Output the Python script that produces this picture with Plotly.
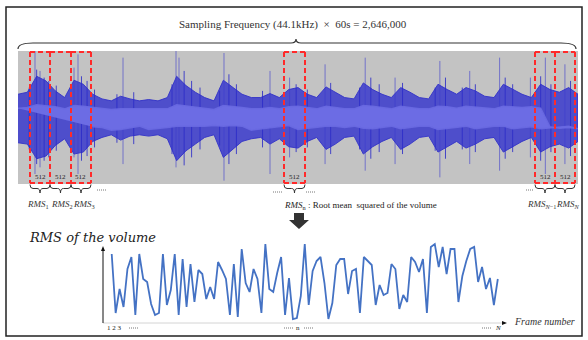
import plotly.graph_objects as go

W, H = 588, 340

# ---------------- data ----------------
# waveform envelope (per second, 0..60 s), normalised amplitude
wave_t = list(range(61))
outer_top = [0.35,0.38,0.62,0.55,0.40,0.30,0.56,0.50,0.35,0.28,0.25,0.32,0.28,0.25,0.27,0.25,0.30,0.62,0.48,0.38,
             0.30,0.25,0.56,0.45,0.35,0.30,0.30,0.36,0.30,0.42,0.45,0.35,0.30,0.46,0.38,0.30,0.28,0.52,0.42,0.35,
             0.30,0.45,0.38,0.30,0.28,0.50,0.42,0.35,0.45,0.40,0.32,0.30,0.50,0.42,0.35,0.30,0.50,0.42,0.38,0.45,0.35]
outer_bot = [0.38,0.40,0.62,0.58,0.42,0.32,0.55,0.52,0.36,0.30,0.26,0.34,0.28,0.26,0.28,0.26,0.32,0.65,0.50,0.40,
             0.30,0.26,0.60,0.48,0.36,0.32,0.30,0.40,0.32,0.44,0.46,0.36,0.30,0.48,0.40,0.30,0.28,0.55,0.44,0.36,
             0.30,0.48,0.40,0.30,0.28,0.52,0.44,0.36,0.46,0.40,0.32,0.30,0.52,0.44,0.36,0.30,0.52,0.44,0.40,0.46,0.36]
core_amp = [0.14,0.15,0.19,0.18,0.16,0.13,0.18,0.17,0.15,0.13,0.12,0.13,0.13,0.12,0.13,0.12,0.13,0.19,0.17,0.16,
            0.14,0.12,0.18,0.17,0.15,0.13,0.13,0.15,0.13,0.16,0.17,0.15,0.13,0.17,0.15,0.13,0.13,0.18,0.17,0.15,
            0.13,0.17,0.15,0.13,0.13,0.17,0.16,0.14,0.17,0.16,0.14,0.13,0.17,0.16,0.15,0.16,0.14]
# tall spikes (seconds, top, bottom)
spike_t   = [1.82, 2.36, 6.0, 6.43, 11.25, 16.93, 17.25, 22.07, 27.0, 29.1, 32.9, 37.2, 40.4, 45.2, 48.4, 51.6, 54.9, 56.5, 58.6]
spike_top = [1.0, 0.7, 0.75, 0.95, 0.9, 1.0, 0.9, 0.97, 0.7, 0.6, 0.8, 0.9, 0.6, 0.85, 0.7, 0.9, 0.6, 0.9, 0.8]
spike_bot = [0.85, 0.75, 0.6, 0.85, 0.7, 0.75, 0.6, 0.95, 0.85, 0.6, 0.7, 0.8, 0.7, 0.9, 0.7, 0.8, 0.6, 0.85, 0.7]
# shorter spikes in the dark fringe
mid_t   = [1.2, 2.0, 2.8, 3.3, 4.1, 6.8, 7.4, 8.2, 10.6, 12.4, 16.5, 17.8, 18.6, 19.5, 21.6, 22.6, 23.4, 26.2, 29.8,
           31.0, 33.5, 36.6, 37.8, 38.7, 41.2, 44.7, 45.8, 47.6, 49.0, 52.2, 53.0, 56.0, 57.1, 59.2]
mid_top = [0.45, 0.72, 0.6, 0.55, 0.48, 0.62, 0.55, 0.42, 0.35, 0.38, 0.5, 0.7, 0.55, 0.45, 0.4, 0.65, 0.5, 0.4, 0.5,
           0.42, 0.52, 0.45, 0.6, 0.5, 0.52, 0.45, 0.6, 0.45, 0.5, 0.6, 0.5, 0.62, 0.5, 0.55]
mid_bot = [0.48, 0.7, 0.65, 0.6, 0.5, 0.65, 0.58, 0.45, 0.38, 0.4, 0.55, 0.72, 0.6, 0.48, 0.42, 0.7, 0.55, 0.45, 0.52,
           0.45, 0.55, 0.48, 0.62, 0.52, 0.55, 0.5, 0.62, 0.48, 0.52, 0.62, 0.52, 0.65, 0.52, 0.58]

# RMS of the volume per frame
rms = [69,10,34,16,54,66,8,69,44,41,19,8,10,69,18,33,69,8,64,16,59,21,53,49,24,36,24,61,53,44,8,59,6,
       74,40,31,54,44,10,79,34,31,50,66,8,45,4,5,27,79,18,52,62,66,40,4,20,58,64,64,29,52,54,10,66,62,
       58,18,38,28,30,59,54,14,28,21,66,61,51,64,10,76,79,56,76,49,74,74,21,47,62,74,76,41,56,34,45,18,44]
frames = list(range(1, len(rms) + 1))

title_text = "Sampling Frequency (44.1kHz)  ×  60s = 2,646,000"
box_labels = ["512"] * 6

SERIF = "Liberation Serif"

def X(p): return p / W
def Y(p): return 1 - p / H
def P(x, y): return f"{X(x):.5f},{Y(y):.5f}"

fig = go.Figure()

# ---------------- waveform ----------------
wx = wave_t + wave_t[::-1]
wy = outer_top + [-v for v in outer_bot[::-1]]
fig.add_trace(go.Scatter(x=wx, y=wy, fill="toself", mode="lines",
                         line=dict(color="rgba(50,50,200,0.9)", width=1),
                         fillcolor="rgba(58,58,205,0.85)", hoverinfo="skip", xaxis="x", yaxis="y"))
mx, my = [], []
for t, a, b in zip(mid_t, mid_top, mid_bot):
    mx += [t, t, None]
    my += [a, -b, None]
fig.add_trace(go.Scatter(x=mx, y=my, mode="lines", line=dict(color="rgba(45,45,200,0.85)", width=1),
                         hoverinfo="skip", xaxis="x", yaxis="y"))
sx, sy = [], []
for t, a, b in zip(spike_t, spike_top, spike_bot):
    sx += [t, t, None]
    sy += [a, -b, None]
fig.add_trace(go.Scatter(x=sx, y=sy, mode="lines", line=dict(color="rgba(60,60,205,0.6)", width=1),
                         hoverinfo="skip", xaxis="x", yaxis="y"))
cx = wave_t + wave_t[::-1]
cy = core_amp + [-v for v in core_amp[::-1]]
fig.add_trace(go.Scatter(x=cx, y=cy, fill="toself", mode="lines",
                         line=dict(color="rgba(105,105,225,0.9)", width=1.5),
                         fillcolor="rgba(108,108,228,1)", hoverinfo="skip", xaxis="x", yaxis="y"))

# ---------------- RMS line ----------------
fig.add_trace(go.Scatter(x=frames, y=rms, mode="lines", line=dict(color="#4472C4", width=1.8),
                         hoverinfo="skip", xaxis="x2", yaxis="y2"))

shapes = []
# frame
shapes.append(dict(type="rect", xref="paper", yref="paper", x0=X(6), x1=X(582), y0=Y(336), y1=Y(7),
                   line=dict(color="#222", width=1.5), layer="below"))
# gray waveform bg
shapes.append(dict(type="rect", xref="paper", yref="paper", x0=X(18), x1=X(578), y0=Y(184), y1=Y(51),
                   fillcolor="#c3c3c3", line=dict(width=0), layer="below"))

# top brace
x0, x1, y0, yf, yt, xt = 18, 576, 49, 43, 39, 296
path = (f"M {P(x0,y0)} Q {P(x0,yf)} {P(x0+15,yf)} L {P(xt-5,yf)} Q {P(xt,yf)} {P(xt,yt)} "
        f"Q {P(xt,yf)} {P(xt+5,yf)} L {P(x1-15,yf)} Q {P(x1,yf)} {P(x1,y0)}")
shapes.append(dict(type="path", xref="paper", yref="paper", path=path, line=dict(color="#333", width=1.2)))

# red dashed boxes, drawn edge by edge so shared edges stay dashed
boxes = [(30, 50), (50, 71), (71, 91), (284, 305), (535, 555), (555, 575)]
RED = dict(color="#ff2a2a", width=2, dash="5px,3px")
BT, BB = 52, 183
vx = sorted(set([a for a, b in boxes] + [b for a, b in boxes]))
for v in vx:
    shapes.append(dict(type="line", xref="paper", yref="paper", x0=X(v), x1=X(v), y0=Y(BT), y1=Y(BB), line=RED))
for (a, b) in boxes:
    for yy in (BT, BB):
        shapes.append(dict(type="line", xref="paper", yref="paper", x0=X(a), x1=X(b), y0=Y(yy), y1=Y(yy), line=RED))
    xm = (a + b) / 2
    yb, yd, ytp = 184.5, 188.5, 193
    r = 3
    bp = (f"M {P(a,yb)} Q {P(a,yd)} {P(a+r,yd)} L {P(xm-r,yd)} Q {P(xm,yd)} {P(xm,ytp)} "
          f"Q {P(xm,yd)} {P(xm+r,yd)} L {P(b-r,yd)} Q {P(b,yd)} {P(b,yb)}")
    shapes.append(dict(type="path", xref="paper", yref="paper", path=bp, line=dict(color="#333", width=1)))

# dotted ellipses "....."
for (a, b, y) in [(97, 107, 190), (273, 282, 192), (306, 315, 192), (526, 534, 190),
                  (129, 138, 328), (284, 293, 328), (304, 313, 328), (482, 491, 328)]:
    shapes.append(dict(type="line", xref="paper", yref="paper", x0=X(a), x1=X(b), y0=Y(y), y1=Y(y),
                       line=dict(color="#777", width=1, dash="1px,1px")))

# down arrow
ap = (f"M {P(294,213)} L {P(304,213)} L {P(304,220)} L {P(309,220)} L {P(299,229)} "
      f"L {P(289,220)} L {P(294,220)} Z")
shapes.append(dict(type="path", xref="paper", yref="paper", path=ap, fillcolor="#333", line=dict(width=0)))

# axes of lower chart
shapes.append(dict(type="line", xref="paper", yref="paper", x0=X(103), x1=X(502), y0=Y(323), y1=Y(323),
                   line=dict(color="#d4d4d4", width=1)))
shapes.append(dict(type="line", xref="paper", yref="paper", x0=X(103), x1=X(103), y0=Y(323), y1=Y(250),
                   line=dict(color="#111", width=1)))
shapes.append(dict(type="path", xref="paper", yref="paper",
                   path=f"M {P(101,251)} L {P(105,251)} L {P(103,246)} Z", fillcolor="#111", line=dict(width=0)))
shapes.append(dict(type="path", xref="paper", yref="paper",
                   path=f"M {P(502,321)} L {P(502,325)} L {P(507,323)} Z", fillcolor="#111", line=dict(width=0)))

ann = []
def T(x, y, text, size, xanchor="center", color="#222", family=SERIF):
    ann.append(dict(xref="paper", yref="paper", x=X(x), y=Y(y), text=text, showarrow=False,
                    xanchor=xanchor, yanchor="middle", font=dict(family=family, size=size, color=color)))

T(292.5, 25, title_text, 11, color="#333")
for (a, b), lab in zip(boxes, box_labels):
    T((a + b) / 2, 177, lab, 7)
T(37.5, 204, "<i>RMS</i><sub>1</sub>", 9, color="#333")
T(62, 204, "<i>RMS</i><sub>2</sub>", 9, color="#333")
T(84, 204, "<i>RMS</i><sub>3</sub>", 9, color="#333")
T(282, 205, "<i>RMS</i><sub>n</sub> : Root mean  squared of the volume", 9, xanchor="left", color="#222")
T(541, 204, "<i>RMS</i><sub><i>N</i>−1</sub>", 9, color="#333")
T(568, 204, "<i>RMS</i><sub><i>N</i></sub>", 9, color="#333")
T(27, 238, "<i>RMS of the volume</i>", 13, xanchor="left", color="#222", family="DejaVu Serif")
T(512, 321, "<i>Frame number</i>", 10, xanchor="left", color="#333")
T(114, 328, "1 2 3", 7)
T(298, 328, "n", 7)
T(498, 328, "<i>N</i>", 7)

fig.update_layout(
    width=W, height=H, margin=dict(l=0, r=0, t=0, b=0),
    paper_bgcolor="white", plot_bgcolor="rgba(0,0,0,0)", showlegend=False,
    xaxis=dict(domain=[X(18), X(578)], range=[0, 60], visible=False, fixedrange=True),
    yaxis=dict(domain=[Y(184), Y(51)], range=[-1, 1], visible=False, fixedrange=True),
    xaxis2=dict(domain=[X(103), X(502)], range=[1 - 8.7 / 3.94, 1 + 390.3 / 3.94], visible=False,
                anchor="y2", fixedrange=True),
    yaxis2=dict(domain=[Y(323), Y(240)], range=[0, 83], visible=False, anchor="x2", fixedrange=True),
    shapes=shapes, annotations=ann,
)
fig.write_html("out.html", config={"displayModeBar": False},
               post_script="document.body.style.margin='0';document.body.style.overflow='hidden';")
